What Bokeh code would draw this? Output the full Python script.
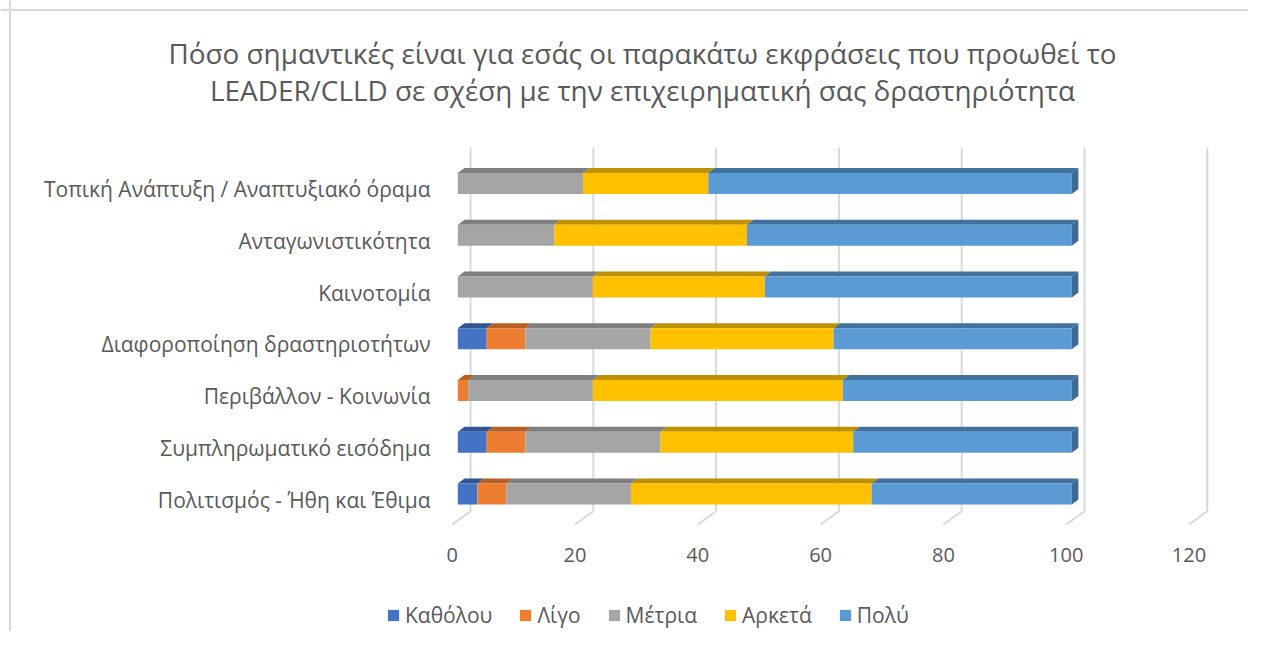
from bokeh.plotting import figure
from bokeh.models import (ColumnDataSource, FixedTicker, Range1d, LinearAxis, Legend,
                          LegendItem, Span)
from bokeh.core.properties import value
from bokeh.embed import file_html
from bokeh.resources import INLINE

# ---------------- data ----------------
title_lines = [
    "Πόσο σημαντικές είναι για εσάς οι παρακάτω εκφράσεις που προωθεί το",
    "LEADER/CLLD σε σχέση με την επιχειρηματική σας δραστηριότητα",
]
categories = [
    "Τοπική Ανάπτυξη / Αναπτυξιακό όραμα",
    "Ανταγωνιστικότητα",
    "Καινοτομία",
    "Διαφοροποίηση δραστηριοτήτων",
    "Περιβάλλον - Κοινωνία",
    "Συμπληρωματικό εισόδημα",
    "Πολιτισμός - Ήθη και Έθιμα",
]
series_names = ["Καθόλου", "Λίγο", "Μέτρια", "Αρκετά", "Πολύ"]
katholou = [0.0, 0.0, 0.0, 4.7, 0.0, 4.7, 3.2]
ligo = [0.0, 0.0, 0.0, 6.3, 1.7, 6.3, 4.7]
metria = [20.4, 15.7, 22.0, 20.4, 20.3, 22.0, 20.3]
arketa = [20.4, 31.4, 28.0, 29.8, 40.7, 31.4, 39.2]
poly = [59.2, 52.9, 50.0, 38.8, 37.3, 35.6, 32.6]
x_ticks = [0, 20, 40, 60, 80, 100, 120]

series_values = [katholou, ligo, metria, arketa, poly]
front_colors = ["#4472C4", "#ED7D31", "#A5A5A5", "#FFC000", "#5B9BD5"]
top_colors = ["#2F5597", "#B85F24", "#7F7F7F", "#BF9000", "#41719C"]
side_color = "#3E6A93"
text_color = "#595959"
FONT = "Open Sans"

# ---------------- layout (page pixels) ----------------
W, H = 1248, 631
M = 1                      # observed page offset of the figure's top-left corner
PXX, X0 = 6.14, 458.3      # px per x unit, page x of value 0 (front face)
PXY, Y0 = 51.75, 494.5     # px per row, page y of bottom row centre


def xv(px):
    return (px - X0) / PXX


def yv(py):
    return (Y0 - py) / PXY


bar_h = 21 / PXY
depth_dx = 6.6 / PXX
depth_dy = 5.0 / PXY
grid_dx = 12.7 / PXX
label_shift = 5.6 / PXX
cat_label_drop = 5.5 / PXY

p = figure(
    width=W, height=H,
    x_range=Range1d(xv(M), xv(M + W)), y_range=Range1d(yv(M + H), yv(M)),
    output_backend="svg", toolbar_location=None,
    x_axis_location=None, y_axis_location=None,
    min_border=0, min_border_left=0, min_border_right=0,
    min_border_top=0, min_border_bottom=0,
)
p.outline_line_color = None
p.background_fill_color = "white"
p.border_fill_color = "white"
p.grid.visible = False

# chart-area border (left and top edges)
p.add_layout(Span(location=xv(10.5), dimension="height", line_color="#d9d9d9", line_width=2))
p.add_layout(Span(location=yv(10.5), dimension="width", line_color="#d9d9d9", line_width=2))

# title
p.text(x=[xv(643)] * 2, y=[yv(53.5), yv(90.5)], text=title_lines,
       text_align="center", text_baseline="alphabetic",
       text_font=value(FONT), text_font_size="27.9px", text_color=text_color)

# gridlines (back wall + floor diagonals)
g_xs = [[v + grid_dx, v + grid_dx, v - label_shift] for v in x_ticks]
g_ys = [[yv(148), yv(511.7), yv(525)] for _ in x_ticks]
p.multi_line(xs=g_xs, ys=g_ys, line_color="#d9d9d9", line_width=2)

# bars
n = len(categories)
rows = [n - 1 - i for i in range(n)]
cum = [0.0] * n
legend_items = []
for s, (name, vals) in enumerate(zip(series_names, series_values)):
    left = cum[:]
    right = [a + b for a, b in zip(cum, vals)]
    cum = right
    src = ColumnDataSource(dict(
        left=left, right=right,
        bottom=[r - bar_h / 2 for r in rows], top=[r + bar_h / 2 for r in rows],
    ))
    txs, tys = [], []
    for l, r, k in zip(left, right, rows):
        if r - l <= 0:
            continue
        yt = k + bar_h / 2
        txs.append([l, r, r + depth_dx, l + depth_dx])
        tys.append([yt, yt, yt + depth_dy, yt + depth_dy])
    p.patches(xs=txs, ys=tys, fill_color=top_colors[s], line_color=None)
    rend = p.quad(left="left", right="right", bottom="bottom", top="top", source=src,
                  fill_color=front_colors[s], line_color=None)
    legend_items.append(LegendItem(label=name, renderers=[rend]))

# side face at end of stack
sxs, sys_ = [], []
for r, k in zip(cum, rows):
    yb, yt = k - bar_h / 2, k + bar_h / 2
    sxs.append([r, r + depth_dx, r + depth_dx, r])
    sys_.append([yb, yb + depth_dy, yt + depth_dy, yt])
p.patches(xs=sxs, ys=sys_, fill_color=side_color, line_color=None)

# axes (fixed inside the plotting area)
p.extra_y_ranges = {"cats": Range1d(yv(M + H) + cat_label_drop, yv(M) + cat_label_drop)}
yaxis = LinearAxis(
    y_range_name="cats", fixed_location=xv(445),
    ticker=FixedTicker(ticks=rows),
    major_label_overrides={k: c for k, c in zip(rows, categories)},
    axis_line_color=None, major_tick_line_color=None, minor_tick_line_color=None,
    major_tick_out=0, major_tick_in=0, minor_tick_out=0, minor_tick_in=0,
    major_label_standoff=14,
    major_label_text_font=FONT, major_label_text_font_size="21px",
    major_label_text_color=text_color,
)
p.add_layout(yaxis, "left")

p.extra_x_ranges = {"labels": Range1d(xv(M) + label_shift, xv(M + W) + label_shift)}
xaxis = LinearAxis(
    x_range_name="labels", fixed_location=yv(526),
    ticker=FixedTicker(ticks=x_ticks),
    axis_line_color=None, major_tick_line_color=None, minor_tick_line_color=None,
    major_tick_out=0, major_tick_in=0, minor_tick_out=0, minor_tick_in=0,
    major_label_standoff=22,
    major_label_text_font=FONT, major_label_text_font_size="20px",
    major_label_text_color=text_color,
)
p.add_layout(xaxis, "below")

legend = Legend(
    items=legend_items, orientation="horizontal", location=(387 - M, 631 + M - 630),
    border_line_color=None, background_fill_alpha=0, padding=0, margin=0, spacing=26,
    glyph_width=14, glyph_height=14, label_standoff=5,
    label_text_font=FONT, label_text_font_size="21px", label_text_color=text_color,
)
p.add_layout(legend, "center")

open("out.html", "w").write(file_html(p, INLINE))
